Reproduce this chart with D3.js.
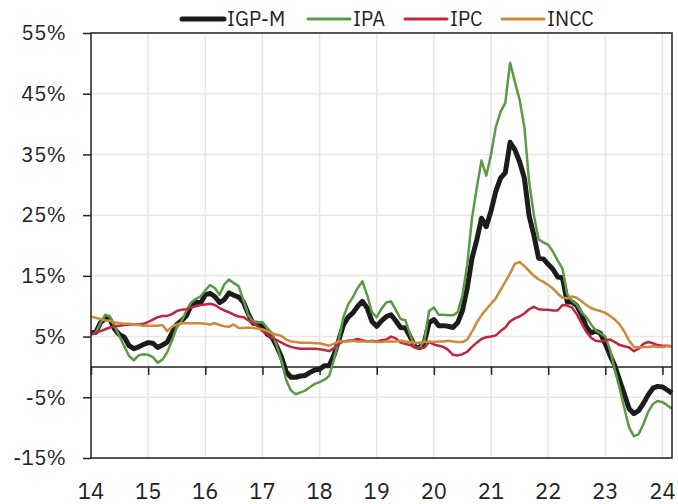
<!DOCTYPE html>
<meta charset="utf-8">
<script src="https://d3js.org/d3.v7.min.js"></script>
<style>
  body { margin: 0; background: #fff; }
  text { font-family: "IBM Plex Sans", Roboto, "Noto Sans", sans-serif; fill: #222; }
</style>
<div id="my_dataviz"></div>
<script>
// 12-month change, Jan 2014 .. Mar 2024 (monthly)
var igpm = [
  5.6, 5.7, 7.3, 8.0, 7.8, 6.2, 5.3, 4.9, 3.5, 3.0, 3.3, 3.7,
  4.0, 3.9, 3.2, 3.6, 4.1, 5.6, 7.0, 7.6, 8.4, 10.1, 10.7, 10.5,
  11.9, 12.1, 11.6, 10.6, 11.1, 12.2, 11.8, 11.5, 10.7, 8.8, 7.2, 7.2,
  6.6, 5.4, 4.9, 3.4, 1.6, -0.8, -1.7, -1.7, -1.5, -1.4, -0.9, -0.5,
  -0.4, 0.2, 0.2, 1.9, 4.3, 6.9, 8.2, 8.9, 10.0, 10.8, 9.7, 7.5,
  6.7, 7.6, 8.3, 8.6, 7.6, 6.5, 6.4, 5.0, 3.4, 3.2, 4.1, 7.3,
  7.8, 6.8, 6.8, 6.7, 6.5, 7.3, 9.3, 13.0, 17.9, 20.9, 24.5, 23.1,
  25.7, 28.9, 31.1, 32.0, 37.0, 35.8, 33.8, 31.1, 24.9, 21.7, 17.9, 17.8,
  16.9, 16.1, 14.8, 14.7, 10.7, 10.7, 10.1, 8.6, 6.6, 5.6, 5.9, 5.5,
  3.8, 1.9, 0.2, -2.2, -4.5, -6.9, -7.7, -7.2, -6.0, -4.6, -3.5, -3.2,
  -3.3, -3.8, -4.3
];
var ipa = [
  5.3, 5.7, 7.2, 8.6, 8.3, 6.6, 5.0, 3.4, 1.8, 1.1, 1.9, 2.1,
  2.0, 1.6, 0.7, 1.2, 2.4, 4.3, 6.5, 7.5, 9.2, 10.6, 11.2, 11.6,
  12.6, 13.5, 13.0, 11.9, 13.6, 14.4, 13.8, 13.3, 11.0, 8.6, 7.5, 7.3,
  7.4, 6.4, 5.6, 3.5, 1.0, -2.2, -3.9, -4.5, -4.2, -3.9, -3.3, -2.8,
  -2.5, -2.1, -1.5, 1.2, 4.4, 8.2, 10.3, 11.5, 13.0, 14.1, 11.8, 9.0,
  8.2, 9.6, 10.6, 10.8, 9.4, 7.9, 7.7, 5.4, 3.2, 3.1, 4.4, 9.2,
  9.8, 8.6, 8.6, 8.5, 8.5, 9.0, 11.8, 16.8, 24.5, 29.5, 34.0, 31.5,
  35.0, 39.5, 42.0, 43.5, 50.1, 47.0, 44.0, 39.5, 30.5, 25.0, 21.0, 20.5,
  20.1, 19.0, 17.5, 16.2, 12.0, 10.9, 10.3, 9.0, 8.2, 7.0, 6.0, 5.5,
  5.0, 2.8, -0.5, -3.5, -6.8, -10.0, -11.4, -11.1, -9.4, -7.4, -6.1, -5.6,
  -5.8, -6.3, -6.9
];
var ipc = [
  5.4, 5.6, 5.9, 6.2, 6.5, 6.7, 6.8, 6.9, 7.0, 7.0, 7.0, 7.1,
  7.4, 7.8, 8.2, 8.4, 8.4, 8.7, 9.2, 9.4, 9.5, 9.8, 10.0, 10.2,
  10.3, 10.4, 10.2, 9.7, 9.3, 9.0, 8.6, 8.3, 8.2, 7.7, 7.2, 6.7,
  5.9, 5.4, 4.8, 4.4, 4.0, 3.6, 3.3, 3.1, 3.0, 3.0, 3.0, 3.0,
  2.9, 2.8, 2.6, 3.1, 3.8, 4.2, 4.3, 4.4, 4.6, 4.4, 4.2, 4.3,
  4.2, 4.4, 4.5, 5.0, 4.7, 4.0, 3.8, 3.6, 3.3, 3.0, 3.2, 4.1,
  3.7, 3.5, 3.3, 2.8, 2.0, 1.9, 2.1, 2.5, 3.3, 4.0, 4.6, 4.9,
  5.0, 5.2, 5.9, 6.5, 7.5, 8.0, 8.3, 8.8, 9.5, 9.9, 9.5, 9.4,
  9.4, 9.3, 9.3, 10.2, 10.1, 9.8, 8.7, 7.2, 5.8, 4.8, 4.3, 4.2,
  4.4, 4.5, 4.1, 3.6, 3.4, 3.2, 2.6, 3.0, 3.8, 4.1, 3.9, 3.6,
  3.5, 3.5, 3.4
];
var incc = [
  8.3, 8.1, 7.9, 7.7, 7.6, 7.3, 7.2, 7.1, 7.1, 7.0, 6.9, 6.8,
  6.8, 6.8, 6.8, 6.9, 5.9, 6.6, 7.0, 7.2, 7.2, 7.2, 7.2, 7.2,
  7.1, 7.0, 7.2, 6.9, 6.7, 6.6, 7.0, 6.4, 6.4, 6.5, 6.4, 6.3,
  6.2, 5.9, 5.5, 5.3, 5.1, 4.5, 4.2, 4.1, 4.0, 4.0, 4.0, 3.9,
  3.9, 3.7, 3.5, 3.8, 4.2, 4.2, 4.2, 4.3, 4.2, 4.2, 4.2, 4.2,
  4.1, 4.1, 4.2, 4.2, 4.2, 4.3, 4.2, 4.1, 4.0, 4.0, 4.1, 4.2,
  4.1, 4.2, 4.2, 4.3, 4.2, 4.1, 4.1, 4.5, 5.8, 7.3, 8.5, 9.5,
  10.4, 11.3, 12.7, 14.0, 15.4, 17.0, 17.3, 16.6, 15.8, 15.0, 14.4, 14.0,
  13.5, 12.9, 12.1, 11.4, 11.3, 11.6, 11.4, 10.8, 10.2, 9.7, 9.4, 9.2,
  8.9, 8.4, 7.8, 7.0, 5.8, 4.3, 3.3, 3.2, 3.3, 3.3, 3.4, 3.3,
  3.3, 3.4, 3.4
];
var seriesNames = ["IGP-M", "IPA", "IPC", "INCC"];
var yearLabels = ["14", "15", "16", "17", "18", "19", "20", "21", "22", "23", "24"];
var yTicks = [-15, -5, 5, 15, 25, 35, 45, 55];

var colors = ["#1c1c1c", "#5b9a45", "#c0263f", "#cf8a36"];
var widths = [5, 2.5, 2.5, 2.5];
var allSeries = [igpm, ipa, ipc, incc];

var W = 678, H = 504;
var margin = {top: 33, right: 6, bottom: 46, left: 91};

var svg = d3.select("#my_dataviz")
  .append("svg")
    .attr("width", W)
    .attr("height", H);

// month index 0 = Jan 2014
var x = d3.scaleLinear()
  .domain([0, igpm.length - 1])
  .range([margin.left, W - margin.right]);

var y = d3.scaleLinear()
  .domain([-15, 55])
  .range([H - margin.bottom, margin.top]);

var yearIdx = yearLabels.map(function(d, i) { return i * 12; });

// gridlines
svg.append("g")
  .selectAll("line")
  .data(yTicks)
  .enter()
  .append("line")
    .attr("x1", margin.left).attr("x2", W - margin.right)
    .attr("y1", function(d) { return y(d); })
    .attr("y2", function(d) { return y(d); })
    .style("stroke", "#e6e6e6")
    .style("stroke-width", 1.5);

svg.append("g")
  .selectAll("line")
  .data(yearIdx.slice(1))
  .enter()
  .append("line")
    .attr("x1", function(d) { return x(d); })
    .attr("x2", function(d) { return x(d); })
    .attr("y1", margin.top).attr("y2", H - margin.bottom)
    .style("stroke", "#e6e6e6")
    .style("stroke-width", 1.5);

// Y axis
var yAxis = svg.append("g")
  .attr("transform", "translate(" + margin.left + ",0)")
  .call(d3.axisLeft(y).tickValues(yTicks).tickSize(8).tickPadding(17)
    .tickFormat(function(d) { return d + "%"; }));
yAxis.select(".domain").remove();
yAxis.selectAll("line").style("stroke", "#222").style("stroke-width", 1.5);
yAxis.selectAll("text").style("font-size", "21px").style("fill", "#222");

// zero line with year ticks
var xAxis = svg.append("g")
  .attr("transform", "translate(0," + y(0) + ")")
  .call(d3.axisBottom(x).tickValues(yearIdx).tickSize(8).tickFormat(""));
xAxis.select(".domain").attr("d", "M" + margin.left + ",0H" + (W - margin.right))
  .style("stroke", "#222").style("stroke-width", 1.5);
xAxis.selectAll("line").style("stroke", "#222").style("stroke-width", 1.5);

// year labels at the bottom
svg.append("g")
  .selectAll("text")
  .data(yearLabels)
  .enter()
  .append("text")
    .attr("x", function(d, i) { return x(yearIdx[i]); })
    .attr("y", 499)
    .attr("text-anchor", "middle")
    .style("font-size", "22px")
    .text(function(d) { return d; });

// lines
var line = d3.line()
  .x(function(d, i) { return x(i); })
  .y(function(d) { return y(d); });

svg.append("g")
  .selectAll("path")
  .data(allSeries)
  .enter()
  .append("path")
    .attr("d", function(d) { return line(d); })
    .style("fill", "none")
    .style("stroke", function(d, i) { return colors[i]; })
    .style("stroke-width", function(d, i) { return widths[i]; })
    .style("stroke-linejoin", "round");

// frame
svg.append("rect")
  .attr("x", margin.left).attr("y", margin.top)
  .attr("width", W - margin.right - margin.left)
  .attr("height", H - margin.bottom - margin.top)
  .style("fill", "none")
  .style("stroke", "#222")
  .style("stroke-width", 1.5);

// legend
var legX = [182, 308, 405, 502];
var leg = svg.append("g")
  .selectAll("g")
  .data(seriesNames)
  .enter()
  .append("g")
    .attr("transform", function(d, i) { return "translate(" + legX[i] + ",19)"; });
leg.append("line")
  .attr("x1", 0).attr("x2", 42)
  .style("stroke", function(d, i) { return colors[i]; })
  .style("stroke-width", function(d, i) { return i === 0 ? 5 : 3; })
  .style("stroke-linecap", "round");
leg.append("text")
  .attr("x", 45)
  .attr("y", 7)
  .style("font-size", "20px")
  .text(function(d) { return d; });
</script>
